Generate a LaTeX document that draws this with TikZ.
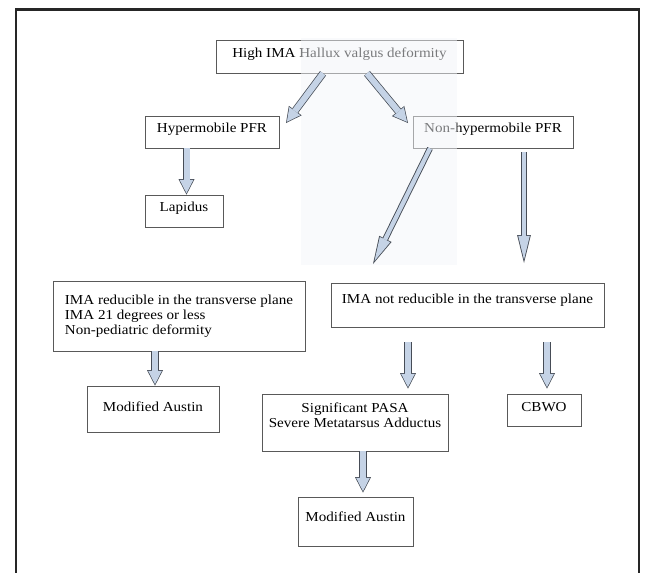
\documentclass[tikz,border=0pt]{standalone}
\usepackage{fontspec}
\setmainfont{Liberation Serif}[FakeStretch=1.1]
\usetikzlibrary{arrows.meta,shadows}
\definecolor{arrowfill}{RGB}{197,211,230}
\definecolor{arrowedge}{RGB}{70,76,86}
\definecolor{patchtint}{RGB}{243,245,249}

\begin{document}
\begin{tikzpicture}[
    x=1pt, y=-1pt,
    box/.style={draw=black!65, line width=0.7pt, fill=white, drop shadow={shadow xshift=0.9pt, shadow yshift=-0.9pt, fill=black!85, opacity=1}, inner sep=3pt, text height=9.5pt, font=\fontsize{13.7pt}{15pt}\selectfont},
    blk/.style={draw=arrowfill, line width=6pt, -{Triangle[length=13.3pt, width=13.7pt, line width=0pt]}, shorten >=1.5pt, preaction={draw=arrowedge, line width=7.5pt, -{Triangle[length=15.5pt, width=16pt, line width=0pt]}, shorten >=0pt}},
    blklong/.style={draw=arrowfill, line width=4.2pt, -{Triangle[length=23.8pt, width=11.6pt, line width=0pt]}, shorten >=3.4pt, preaction={draw=arrowedge, line width=6pt, -{Triangle[length=28pt, width=13.8pt, line width=0pt]}, shorten >=0pt}},
    frame/.style={draw=black!85, line width=2.5pt},
    patch/.style={fill=patchtint, opacity=0.5}
  ]
  \useasboundingbox (0,0) rectangle (657,573);

  \node[box, minimum width=247pt, minimum height=33pt, text depth=7.5pt] (top) at (339.5,56.5) {High IMA Hallux valgus deformity};
  \node[box, minimum width=134pt, minimum height=32pt, text depth=8.5pt] (hyp) at (212,132) {Hypermobile PFR};
  \node[box, minimum width=160pt, minimum height=32pt, text depth=8.5pt] (nonhyp) at (493,132) {Non-hypermobile PFR};
  \node[box, minimum width=78pt, minimum height=32pt, text depth=8.5pt] (lap) at (184,211) {Lapidus};
  \node[box, minimum width=252pt, minimum height=70pt, text height=10.5pt] (red) at (179,316) {\begin{tabular}[t]{@{}l@{}}IMA reducible in the transverse plane\\IMA 21 degrees or less\\Non-pediatric deformity\end{tabular}};
  \node[box, minimum width=273pt, minimum height=44pt, text depth=12.5pt] (nonred) at (467.5,305) {IMA not reducible in the transverse plane};
  \node[box, minimum width=132pt, minimum height=46pt, text depth=4.5pt] (ma1) at (153,409) {Modified Austin};
  \node[box, minimum width=186pt, minimum height=57pt, text height=10.5pt, text depth=30.5pt] (sig) at (355,422.5) {\begin{tabular}[t]{@{}c@{}}Significant PASA\\Severe Metatarsus Adductus\end{tabular}};
  \node[box, minimum width=74pt, minimum height=32pt, text depth=6.5pt] (cbwo) at (544,410) {CBWO};
  \node[box, minimum width=115pt, minimum height=49pt, text depth=9.5pt] (ma2) at (355.5,521.5) {Modified Austin};

  % pasted picture patch over the middle
  \fill[patch] (301,38) rectangle (457,265);

  \coordinate (hypin) at (286,123);
  \coordinate (nhin) at (408,123);
  \coordinate (nrin) at (373,264);
  \coordinate (nrout) at (524,263);

  \draw[blk] ([xshift=-16.5pt]top.south) -- (hypin);
  \draw[blk] ([xshift=27.5pt]top.south) -- (nhin);
  \draw[blk] ([xshift=-25.5pt]hyp.south) -- ([xshift=2.5pt]lap.north);
  \draw[blklong] ([xshift=-63pt]nonhyp.south) -- (nrin);
  \draw[blklong] ([xshift=31pt, yshift=-4pt]nonhyp.south) -- (nrout);
  \draw[blk] ([xshift=-24pt]red.south) -- ([xshift=2pt]ma1.north);
  \draw[blk] ([xshift=-59.5pt, yshift=-15pt]nonred.south) -- ([xshift=53pt, yshift=5pt]sig.north);
  \draw[blk] ([xshift=79.5pt, yshift=-15pt]nonred.south) -- ([xshift=3pt, yshift=5pt]cbwo.north);
  \draw[blk] ([xshift=8pt]sig.south) -- ([xshift=7.5pt, yshift=4pt]ma2.north);

  \draw[frame] (16,573) |- (639,9.5) -- (639,573);
\end{tikzpicture}
\end{document}
